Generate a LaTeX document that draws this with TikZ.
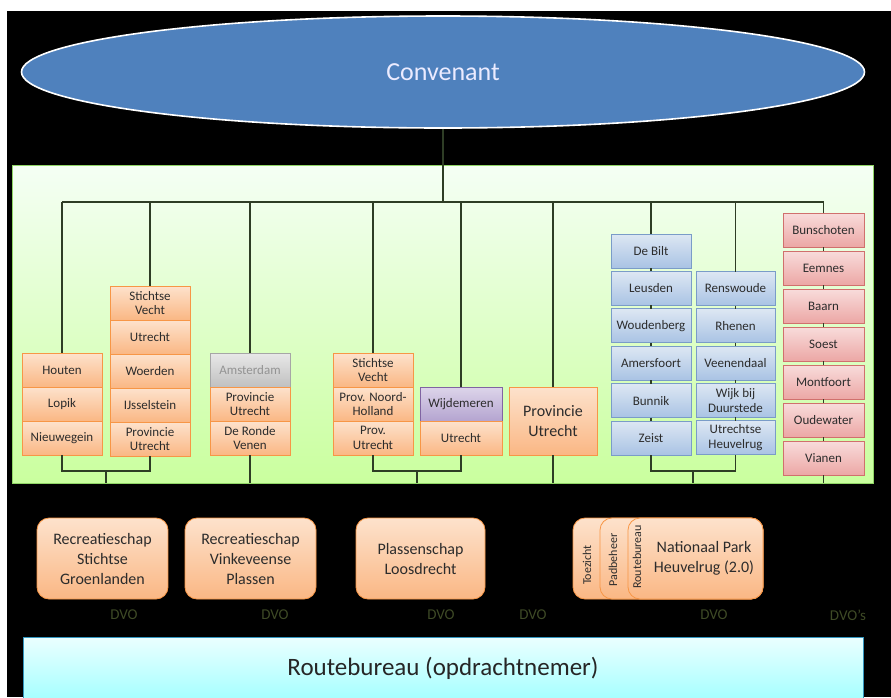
\documentclass[tikz,border=0pt]{standalone}
\usepackage{fontspec}
\setmainfont{Carlito}
\usetikzlibrary{shapes.geometric,chains,positioning}

\definecolor{wirecol}{HTML}{2E3D25}
\definecolor{txt}{HTML}{2C2C2C}
\definecolor{orgtop}{HTML}{FDE2CC}
\definecolor{orgbot}{HTML}{FAB784}
\definecolor{orgline}{HTML}{F79646}
\definecolor{blutop}{HTML}{DDE7F3}
\definecolor{blubot}{HTML}{A9C3E4}
\definecolor{bluline}{HTML}{7A9CC8}
\definecolor{redtop}{HTML}{F8DCDB}
\definecolor{redbot}{HTML}{ECA7A5}
\definecolor{redline}{HTML}{D0706D}
\definecolor{purtop}{HTML}{DDD5EA}
\definecolor{purbot}{HTML}{B4A4D0}
\definecolor{purline}{HTML}{8064A2}
\definecolor{grytop}{HTML}{E8E8E8}
\definecolor{grybot}{HTML}{C0C0C0}
\definecolor{convfill}{HTML}{4F81BD}
\definecolor{dvocol}{HTML}{3E4A26}

\begin{document}
\begin{tikzpicture}
  [
    x=1pt, y=-1pt,
    node distance = 0pt,
    cell/.style =
      {minimum width=80pt, minimum height=34pt, inner sep=1pt, outer sep=0pt,
       align=center, text=txt, line width=0.8pt,
       font=\fontsize{13}{14.5}\selectfont},
    ocell/.style = {cell, draw=orgline, top color=orgtop, bottom color=orgbot},
    bcell/.style = {cell, draw=bluline, top color=blutop, bottom color=blubot},
    rcell/.style = {cell, minimum width=81pt, draw=redline, top color=redtop, bottom color=redbot},
    pcell/.style = {cell, minimum width=82pt, draw=purline, top color=purtop, bottom color=purbot},
    gcell/.style = {cell, draw=gray!70, top color=grytop, bottom color=grybot, text=gray!85},
    org/.style =
      {draw=orgline, line width=0.8pt, rounded corners=12pt, top color=orgtop,
       bottom color=orgbot, minimum height=81pt, align=center, text=txt,
       font=\fontsize{16}{20}\selectfont},
    tab/.style = {rotate=90, text=txt, inner sep=0pt, font=\fontsize{12}{12}\selectfont},
    dvo/.style = {text=dvocol, font=\fontsize{15}{15}\selectfont},
    wire/.style = {draw=wirecol, line width=1.3pt}
  ]
  \useasboundingbox (0,0) rectangle (891,697);
  \fill [black] (7,11) rectangle (891,697);

  \node [ellipse, draw=white, line width=1.6pt, fill=convfill, inner sep=0pt,
         minimum width=843pt, minimum height=112pt, text=white!92!blue,
         font=\fontsize{26}{26}\selectfont] at (443,72) (conv) {Convenant};

  \node [draw=green!45!olive!60, line width=0.8pt, top color=green!4!white,
         bottom color=green!55!yellow!38, minimum width=861pt,
         minimum height=318pt] at (442.5,324) (panel) {};

  % column 1
  \begin{scope}[start chain = going below]
    \node [ocell, on chain] at (62,370) (houten) {Houten};
    \node [ocell, on chain] (lopik) {Lopik};
    \node [ocell, on chain] (nieuwegein) {Nieuwegein};
  \end{scope}
  % column 2
  \begin{scope}[start chain = going below]
    \node [ocell, on chain] at (150,303) (sv1) {Stichtse\\Vecht};
    \node [ocell, on chain] (utr1) {Utrecht};
    \node [ocell, on chain] (woerden) {Woerden};
    \node [ocell, on chain] (ijssel) {IJsselstein};
    \node [ocell, on chain] (pu1) {Provincie\\Utrecht};
  \end{scope}
  % column 3
  \begin{scope}[start chain = going below]
    \node [gcell, on chain] at (250,370) (ams) {Amsterdam};
    \node [ocell, on chain] (pu2) {Provincie\\Utrecht};
    \node [ocell, on chain] (ronde) {De Ronde\\Venen};
  \end{scope}
  % column 4
  \begin{scope}[start chain = going below, every node/.append style={minimum width=82pt}]
    \node [ocell, on chain] at (373,370) (sv2) {Stichtse\\Vecht};
    \node [ocell, on chain] (pnh) {Prov. Noord-\\Holland};
    \node [ocell, on chain] (pu3) {Prov.\\Utrecht};
  \end{scope}
  % column 5
  \begin{scope}[start chain = going below]
    \node [pcell, on chain] at (461,404) (wijd) {Wijdemeren};
    \node [ocell, minimum width=82pt, on chain] (utr2) {Utrecht};
  \end{scope}
  % column 6
  \node [ocell, minimum width=88pt, minimum height=68pt,
         font=\fontsize{16}{20}\selectfont] at (553,421) (pu4) {Provincie\\Utrecht};
  % column 7
  \begin{scope}[start chain = going below, node distance=3.4pt]
    \node [bcell, on chain] at (651,251) (debilt) {De Bilt};
    \node [bcell, on chain] (leusden) {Leusden};
    \node [bcell, on chain] (woudenberg) {Woudenberg};
    \node [bcell, on chain] (amersfoort) {Amersfoort};
    \node [bcell, on chain] (bunnik) {Bunnik};
    \node [bcell, on chain] (zeist) {Zeist};
  \end{scope}
  % column 8
  \begin{scope}[start chain = going below, node distance=3.3pt]
    \node [bcell, minimum width=79pt, on chain] at (735.5,288.5) (rensw) {Renswoude};
    \node [bcell, minimum width=79pt, on chain] (rhenen) {Rhenen};
    \node [bcell, minimum width=79pt, on chain] (veenendaal) {Veenendaal};
    \node [bcell, minimum width=79pt, on chain] (wijk) {Wijk bij\\Duurstede};
    \node [bcell, minimum width=79pt, on chain] (heuvelrug) {Utrechtse\\Heuvelrug};
  \end{scope}
  % column 9
  \begin{scope}[start chain = going below, node distance=4pt]
    \node [rcell, on chain] at (823.5,230) (bunsch) {Bunschoten};
    \node [rcell, on chain] (eemnes) {Eemnes};
    \node [rcell, on chain] (baarn) {Baarn};
    \node [rcell, on chain] (soest) {Soest};
    \node [rcell, on chain] (montfoort) {Montfoort};
    \node [rcell, on chain] (oudewater) {Oudewater};
    \node [rcell, on chain] (vianen) {Vianen};
  \end{scope}

  % tree lines
  \coordinate (bar) at (443,202);
  \draw [wire] (conv) -- (conv |- bar);
  \draw [wire] (houten.north |- bar) -- (bunsch.north |- bar);
  \foreach \n in {houten, sv1, ams, sv2, wijd, pu4, debilt, rensw, bunsch}
    \draw [wire] (\n.north |- bar) -- (\n.north);
  \foreach \a/\b in {debilt/leusden, leusden/woudenberg, woudenberg/amersfoort,
                     amersfoort/bunnik, bunnik/zeist, rensw/rhenen, rhenen/veenendaal,
                     veenendaal/wijk, wijk/heuvelrug, bunsch/eemnes, eemnes/baarn,
                     baarn/soest, soest/montfoort, montfoort/oudewater, oudewater/vianen}
    \draw [wire] (\a) -- (\b);

  \coordinate (j1) at (106,471);
  \coordinate (j2) at (417,471);
  \coordinate (j3) at (693,471);
  \draw [wire] (nieuwegein.south) |- (j1) -| (pu1.south);
  \draw [wire] (pu3.south) |- (j2) -| (utr2.south);
  \draw [wire] (zeist.south) |- (j3) -| (heuvelrug.south);
  \foreach \n in {j1, j2, j3, ronde.south, pu4.south, vianen.south}
    \draw [wire] (\n) -- (\n |- panel.south);

  % lower organisations
  \node [org, minimum width=131pt] at (102.5,558.5) (rsg) {Recreatieschap\\Stichtse\\Groenlanden};
  \node [org, minimum width=131pt] at (250.5,558.5) (rvp) {Recreatieschap\\Vinkeveense\\Plassen};
  \node [org, minimum width=129pt] at (420.5,558.5) (plo) {Plassenschap\\Loosdrecht};
  \node [org, minimum width=190pt] at (668,558.5) (tzbox) {};
  \node [org, minimum width=163pt] at (681.5,558.5) (pbbox) {};
  \node [org, minimum width=135pt] at (695.5,558.5) (rbbox) {};
  \node [tab] at (587,565) (toezicht) {Toezicht};
  \node [tab] at (613,560) (padbeheer) {Padbeheer};
  \node [tab] at (637,557) (routetab) {Routebureau};
  \node [align=center, text=txt, font=\fontsize{16}{20}\selectfont]
        at (704,558) (nph) {Nationaal Park\\Heuvelrug (2.0)};

  \node [dvo] at (124,615) (dvo1) {DVO};
  \node [dvo] at (275,615) (dvo2) {DVO};
  \node [dvo] at (441,615) (dvo3) {DVO};
  \node [dvo] at (533,615) (dvo4) {DVO};
  \node [dvo] at (714,615) (dvo5) {DVO};
  \node [dvo] at (848,615) (dvo6) {DVO's};

  \node [draw=cyan!50!teal, line width=0.8pt, top color=cyan!8!white,
         bottom color=cyan!35!white, minimum width=840pt, minimum height=62pt,
         text=black!85, font=\fontsize{25}{25}\selectfont]
        at (443,668) (route) {Routebureau (opdrachtnemer)};
\end{tikzpicture}
\end{document}
